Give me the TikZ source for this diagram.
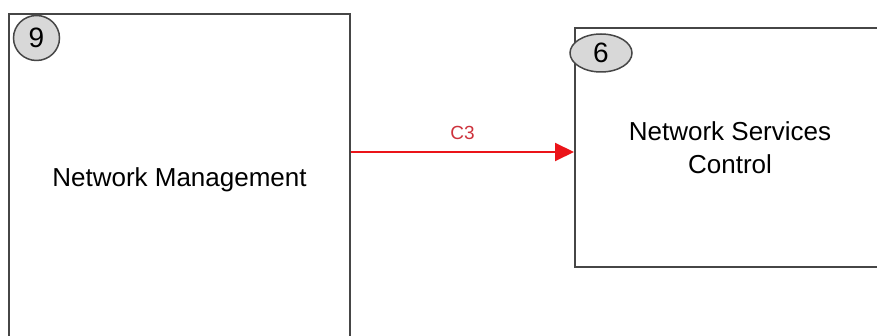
\documentclass[tikz,border=0pt]{standalone}
\usepackage{fontspec}
\setmainfont{Liberation Sans}
\usetikzlibrary{shapes.geometric}
\usetikzlibrary{arrows.meta}

\definecolor{edgegray}{RGB}{70,70,70}
\definecolor{badgegray}{RGB}{216,216,216}
\definecolor{linkred}{RGB}{235,20,25}
\definecolor{labelred}{RGB}{205,50,60}

\begin{document}
\begin{tikzpicture}[x=1pt, y=-1pt,
        block/.style={draw=edgegray, line width=2pt, fill=white, align=center,
                font=\fontsize{26}{33}\selectfont},
        badge/.style={ellipse, draw=edgegray, line width=1.5pt, fill=badgegray,
                inner sep=0pt, font=\fontsize{28}{28}\selectfont},
        link/.style={draw=linkred, line width=2pt, -{Triangle[length=19pt, width=18pt]}}]
        \useasboundingbox (0,0) rectangle (877,336);
        % the two functional blocks
        \node[block, minimum width=341pt, minimum height=332pt] (mgmt) at (179.5,180) {Network Management};
        \node[block, minimum width=310pt, minimum height=239pt] (svc) at (730,147.5) {Network Services\\Control};
        % block numbers
        \node[badge, minimum width=46pt, minimum height=45pt] (n9) at (36.5,38) {9};
        \node[badge, minimum width=62pt, minimum height=38pt] (n6) at (601,53) {6};
        % reference point between them
        \draw[link] (mgmt.east |- 0,152) -- (svc.west |- 0,152)
                node[midway, above=11pt, inner sep=0pt, text=labelred, font=\fontsize{19}{19}\selectfont] (c3) {C3};
    \end{tikzpicture}
\end{document}
